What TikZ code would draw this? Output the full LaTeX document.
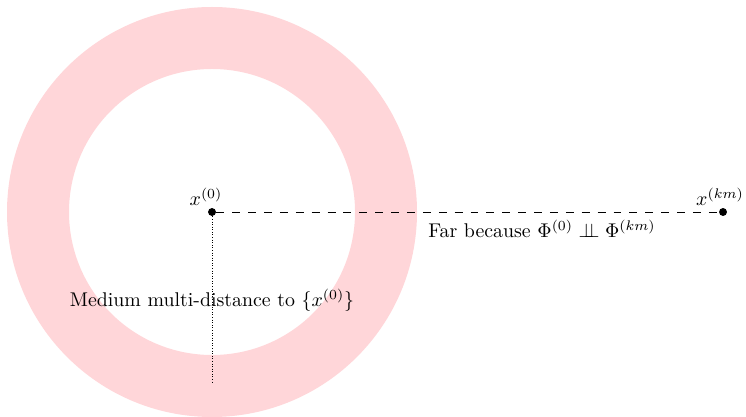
\documentclass[tikz,border=0pt]{standalone}
\usepackage{amsmath,amssymb}
\usetikzlibrary{calc}
\newcommand{\indepsym}{\mathrel{\perp\!\!\!\perp}}
\definecolor{ringpink}{RGB}{255,214,217}
\tikzset{
  pt/.style={circle,fill=black,inner sep=0pt,minimum size=4pt},
  lbl/.style={inner sep=1pt}
}
\begin{document}
\begin{tikzpicture}[x=0.0177cm,y=-0.0177cm]
\useasboundingbox (0,0) rectangle (746,417);
\fill[ringpink,even odd rule] (212,212) circle[radius=205] (212,212) circle[radius=143];
\node[pt] (x0) at (212,212) {};
\node[pt] (xkm) at (723,212) {};
\coordinate (bot) at (212,383);
\draw[dash pattern=on 4pt off 4pt] (x0) -- (xkm);
\draw[densely dotted,line width=0.3pt] (x0) -- (bot);
\node[lbl,anchor=south] at ($(x0)+(-6,-4)$) {$x^{(0)}$};
\node[lbl,anchor=south] at ($(xkm)+(-3,-4)$) {$x^{(km)}$};
\node[lbl] (far) at (542,229) {Far because $\Phi^{(0)} \indepsym \Phi^{(km)}$};
\node[lbl] (med) at (212,300) {Medium multi-distance to $\{x^{(0)}\}$};
\end{tikzpicture}
\end{document}
